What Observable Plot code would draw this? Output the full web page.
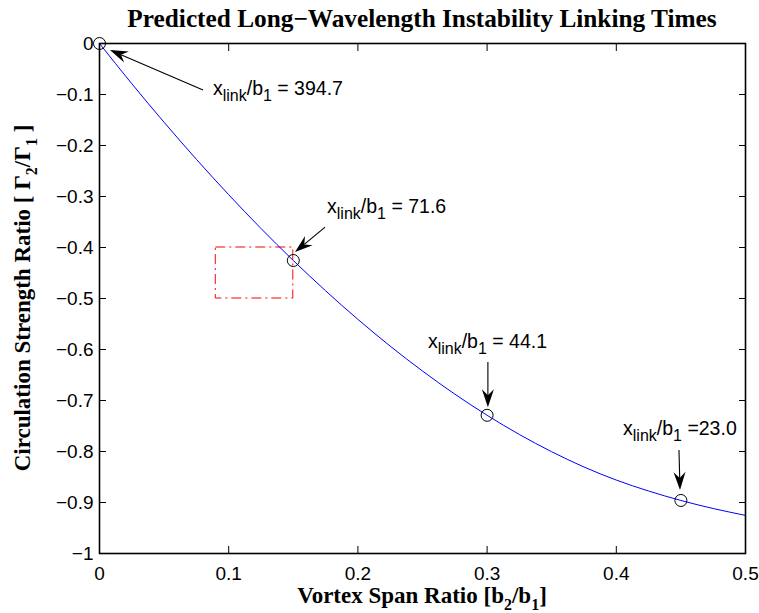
<!DOCTYPE html>
<html><head><meta charset="utf-8">
<script src="https://cdn.jsdelivr.net/npm/d3@7"></script>
<script src="https://cdn.jsdelivr.net/npm/@observablehq/plot@0.6"></script>
<style>body{margin:0;background:#fff}</style>
</head><body><div id="chart"></div>
<script>
const titleText = "Predicted Long\u2212Wavelength Instability Linking Times";
const xTicks = [0, 0.1, 0.2, 0.3, 0.4, 0.5];
const yTicks = [0, -0.1, -0.2, -0.3, -0.4, -0.5, -0.6, -0.7, -0.8, -0.9, -1];
const spanRatio = [0, 0.025, 0.05, 0.075, 0.1, 0.125, 0.15, 0.175, 0.2, 0.225, 0.25, 0.275, 0.3, 0.325, 0.35, 0.375, 0.4, 0.425, 0.45, 0.475, 0.5];
const circRatio = [0, -0.0788, -0.1545, -0.2271, -0.2965, -0.3627, -0.4255, -0.4849, -0.5409, -0.5934, -0.6422, -0.6875, -0.729, -0.7667, -0.8005, -0.8304, -0.856, -0.8775, -0.896, -0.9118, -0.9253];
const pointSpan = [0, 0.15, 0.3, 0.45];
const pointCirc = [0, -0.4255, -0.729, -0.896];
const linkTimes = [" = 394.7", " = 71.6", " = 44.1", " =23.0"];
const labelSpan = [0.0882, 0.1765, 0.2546, 0.4056];
const labelCirc = [-0.102, -0.333, -0.598, -0.7686];
const arrowTailSpan = [0.0805, 0.175, 0.301, 0.4489];
const arrowTailCirc = [-0.0922, -0.361, -0.6255, -0.798];
const arrowHeadSpan = [0.0085, 0.1517, 0.301, 0.4497];
const arrowHeadCirc = [-0.0137, -0.410, -0.714, -0.8765];
const boxSpan = [0.09, 0.15];
const boxCirc = [-0.4, -0.5];

const curve = spanRatio.map((s, i) => ({s, c: circRatio[i]}));
const points = pointSpan.map((s, i) => ({s, c: pointCirc[i]}));
const box = [{x1: boxSpan[0], x2: boxSpan[1], y1: boxCirc[0], y2: boxCirc[1]}];
const fmt = d3.format("~g");

const SERIF = "'Liberation Serif', 'Times New Roman', serif";
const SANS = "'Liberation Sans', Arial, sans-serif";

function addParts(text, parts, subSize, shift) {
  let down = false;
  for (const [str, sub] of parts) {
    const t = text.append("tspan").text(str);
    if (sub && !down) { t.attr("dy", shift).attr("font-size", subSize); down = true; }
    else if (sub) { t.attr("font-size", subSize); }
    else if (!sub && down) { t.attr("dy", -shift); down = false; }
  }
}

function annotations(index, scales, values, dims) {
  const {x, y} = scales;
  const g = d3.create("svg:g").attr("text-anchor", "start");
  for (let i = 0; i < arrowTailSpan.length; i++) {
    const x1 = x(arrowTailSpan[i]), y1 = y(arrowTailCirc[i]);
    const x2 = x(arrowHeadSpan[i]), y2 = y(arrowHeadCirc[i]);
    const dx = x2 - x1, dy = y2 - y1, len = Math.hypot(dx, dy);
    const ux = dx / len, uy = dy / len, nx = -uy, ny = ux;
    const L = 18, W = 12, N = 12;
    g.append("line").attr("x1", x1).attr("y1", y1)
      .attr("x2", x2 - N * ux).attr("y2", y2 - N * uy)
      .attr("stroke", "black").attr("stroke-width", 1.1);
    const p = [
      [x2, y2],
      [x2 - L * ux + W / 2 * nx, y2 - L * uy + W / 2 * ny],
      [x2 - N * ux, y2 - N * uy],
      [x2 - L * ux - W / 2 * nx, y2 - L * uy - W / 2 * ny]
    ];
    g.append("path").attr("d", "M" + p.map(q => q.join(",")).join("L") + "Z").attr("fill", "black");
  }
  for (let i = 0; i < labelSpan.length; i++) {
    const t = g.append("text").attr("x", x(labelSpan[i])).attr("y", y(labelCirc[i]))
      .attr("text-anchor", "start")
      .attr("font-family", SANS).attr("font-size", 19.5).attr("fill", "black")
      .style("white-space", "pre");
    addParts(t, [["x", false], ["link", true], ["/b", false], ["1", true], [linkTimes[i], false]], 16, 6);
  }
  const {width, height, marginLeft, marginRight, marginTop, marginBottom} = dims;
  const cx = marginLeft + (width - marginLeft - marginRight) / 2;
  const cy = marginTop + (height - marginTop - marginBottom) / 2;
  g.append("text").attr("x", cx).attr("y", 27).attr("text-anchor", "middle")
    .attr("font-family", SERIF).attr("font-weight", "bold").attr("font-size", 25.3).attr("fill", "black")
    .text(titleText);
  const xl = g.append("text").attr("x", cx).attr("y", 603).attr("text-anchor", "middle")
    .attr("font-family", SERIF).attr("font-weight", "bold").attr("font-size", 23).attr("fill", "black");
  addParts(xl, [["Vortex Span Ratio [b", false], ["2", true], ["/b", false], ["1", true], ["]", false]], 16, 7);
  const yl = g.append("text").attr("transform", `translate(30,${cy}) rotate(-90)`).attr("text-anchor", "middle")
    .attr("font-family", SERIF).attr("font-weight", "bold").attr("font-size", 23).attr("fill", "black")
    .style("white-space", "pre");
  addParts(yl, [["Circulation Strength Ratio [ \u0393", false], ["2", true], ["/\u0393", false], ["1", true], [" ]", false]], 16, 7);
  return g.node();
}

const chart = Plot.plot({
  width: 759, height: 613,
  marginLeft: 99, marginRight: 14, marginTop: 43, marginBottom: 60,
  style: {fontFamily: SANS, fontSize: "18px", color: "black", background: "white", overflow: "visible"},
  x: {domain: [0, 0.5]},
  y: {domain: [-1, 0]},
  marks: [
    Plot.rect(box, {x1: "x1", x2: "x2", y1: "y1", y2: "y2", fill: "none", stroke: "#ff0000", strokeWidth: 1, strokeDasharray: "10,4,2,4"}),
    Plot.line(curve, {x: "s", y: "c", stroke: "#0000ff", strokeWidth: 1, curve: "natural"}),
    Plot.frame({stroke: "black", strokeWidth: 1.6}),
    Plot.axisX(xTicks, {anchor: "bottom", tickSize: 0, tickPadding: 13, tickFormat: fmt, label: null, fontSize: 19}),
    Plot.axisX(xTicks, {anchor: "bottom", tickSize: -7, fill: "none", tickFormat: () => "", label: null}),
    Plot.axisX(xTicks, {anchor: "top", tickSize: -7, fill: "none", tickFormat: () => "", label: null}),
    Plot.axisY(yTicks, {anchor: "left", tickSize: 0, tickPadding: 6, tickFormat: fmt, label: null, fontSize: 19}),
    Plot.axisY(yTicks, {anchor: "left", tickSize: -7, fill: "none", tickFormat: () => "", label: null}),
    Plot.axisY(yTicks, {anchor: "right", tickSize: -7, fill: "none", tickFormat: () => "", label: null}),
    Plot.dot(points, {x: "s", y: "c", r: 6, stroke: "black", fill: "none", strokeWidth: 1}),
    annotations
  ]
});
document.getElementById("chart").appendChild(chart);
</script>
</body></html>
